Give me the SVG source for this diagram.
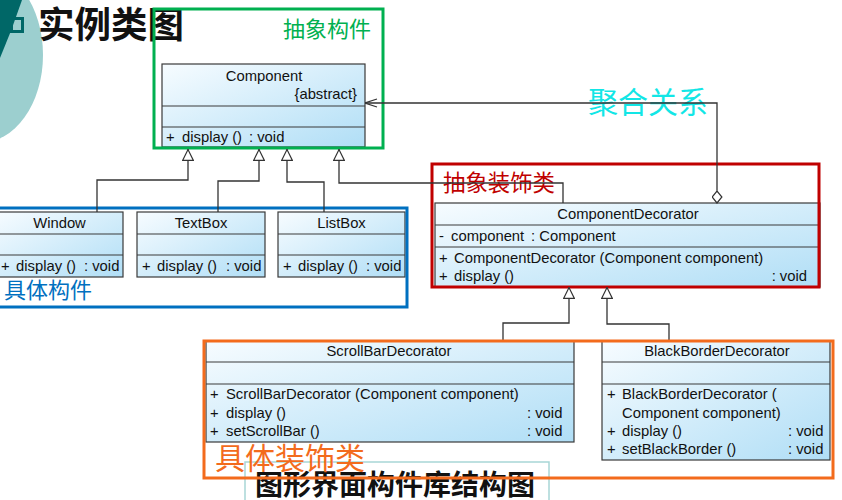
<svg xmlns="http://www.w3.org/2000/svg" width="842" height="500" viewBox="0 0 842 500">
<defs>
<linearGradient id="g" x1="0" y1="0" x2="1" y2="1">
<stop offset="0" stop-color="#f7fcff"/>
<stop offset="1" stop-color="#b0def6"/>
</linearGradient>
<marker id="tri" viewBox="0 0 12 12" refX="12" refY="6" markerWidth="12" markerHeight="12" markerUnits="userSpaceOnUse" orient="auto">
<path d="M0.6,0.6 L11.4,6 L0.6,11.4 Z" fill="#fff" stroke="#333" stroke-width="1.2"/>
</marker>
<marker id="open" viewBox="0 0 13 10" refX="12.5" refY="5" markerWidth="13" markerHeight="10" markerUnits="userSpaceOnUse" orient="auto">
<path d="M0.5,1 L12.5,5 L0.5,9" fill="none" stroke="#333" stroke-width="1.2"/>
</marker>
<marker id="dia" viewBox="0 0 13 11" refX="0.5" refY="5.5" markerWidth="13" markerHeight="11" markerUnits="userSpaceOnUse" orient="auto">
<path d="M0.5,5.5 L6.5,0.6 L12.5,5.5 L6.5,10.4 Z" fill="#fff" stroke="#333" stroke-width="1.2"/>
</marker>
</defs>
<style>
.cls{fill:url(#g);stroke:#3a3a3a;stroke-width:1.2}
.dv{stroke:#3a3a3a;stroke-width:1.2}
.t{font-family:"Liberation Sans",Arial,sans-serif;font-size:14.8px;fill:#111}
.m{text-anchor:middle}
.e{text-anchor:end}
.conn{fill:none;stroke:#333;stroke-width:1.3}
.cjk{font-family:"Noto Sans CJK SC","Noto Sans CJK TC",sans-serif}
.frame{fill:none;stroke-width:3}
</style>
<rect width="842" height="500" fill="#fff"/>

<g id="decoration">
<ellipse cx="-20" cy="55" rx="63" ry="88" fill="#9ccfcf"/>
<path d="M0,0 H22 Q12,30 0,58 Z" fill="#006767"/>
<rect x="11.5" y="18.5" width="11" height="13" fill="none" stroke="#006767" stroke-width="3"/>
<text x="38" y="38" class="cjk" font-size="36.5" font-weight="bold" fill="#111">实例类图</text>
</g>

<g id="Component">
<rect class="cls" x="162" y="64" width="203" height="83"/>
<line class="dv" x1="162" y1="106" x2="365" y2="106"/>
<line class="dv" x1="162" y1="127" x2="365" y2="127"/>
<text class="t m" x="264" y="81">Component</text>
<text class="t e" x="357" y="99">{abstract}</text>
<text class="t" x="166" y="142">+</text>
<text class="t" x="182" y="142">display ()</text>
<text class="t" x="249" y="142">: void</text>
</g>

<g id="Window">
<rect class="cls" x="-4" y="212" width="127" height="65"/>
<line class="dv" x1="-4" y1="234" x2="123" y2="234"/>
<line class="dv" x1="-4" y1="255" x2="123" y2="255"/>
<text class="t m" x="59.5" y="228">Window</text>
<text class="t" x="1" y="271">+</text>
<text class="t" x="16" y="271">display ()</text>
<text class="t" x="84" y="271">: void</text>
</g>

<g id="TextBox">
<rect class="cls" x="137" y="212" width="128" height="65"/>
<line class="dv" x1="137" y1="234" x2="265" y2="234"/>
<line class="dv" x1="137" y1="255" x2="265" y2="255"/>
<text class="t m" x="201" y="228">TextBox</text>
<text class="t" x="142" y="271">+</text>
<text class="t" x="157" y="271">display ()</text>
<text class="t" x="226" y="271">: void</text>
</g>

<g id="ListBox">
<rect class="cls" x="278" y="212" width="127" height="65"/>
<line class="dv" x1="278" y1="234" x2="405" y2="234"/>
<line class="dv" x1="278" y1="255" x2="405" y2="255"/>
<text class="t m" x="341.5" y="228">ListBox</text>
<text class="t" x="283" y="271">+</text>
<text class="t" x="298" y="271">display ()</text>
<text class="t" x="366" y="271">: void</text>
</g>

<g id="ComponentDecorator">
<rect class="cls" x="435" y="203" width="385" height="84"/>
<line class="dv" x1="435" y1="225" x2="820" y2="225"/>
<line class="dv" x1="435" y1="247" x2="820" y2="247"/>
<text class="t m" x="628" y="219">ComponentDecorator</text>
<text class="t" x="439" y="241">-</text>
<text class="t" x="451" y="241">component</text>
<text class="t" x="531" y="241">: Component</text>
<text class="t" x="439" y="263">+</text>
<text class="t" x="454" y="263">ComponentDecorator (Component component)</text>
<text class="t" x="439" y="281">+</text>
<text class="t" x="454" y="281">display ()</text>
<text class="t e" x="807" y="281">: void</text>
</g>

<g id="ScrollBarDecorator">
<rect class="cls" x="206" y="341" width="368" height="101"/>
<line class="dv" x1="206" y1="362" x2="574" y2="362"/>
<line class="dv" x1="206" y1="384" x2="574" y2="384"/>
<text class="t m" x="389" y="356">ScrollBarDecorator</text>
<text class="t" x="210" y="399">+</text>
<text class="t" x="226" y="399">ScrollBarDecorator (Component component)</text>
<text class="t" x="210" y="418">+</text>
<text class="t" x="226" y="418">display ()</text>
<text class="t" x="527" y="418">: void</text>
<text class="t" x="210" y="436">+</text>
<text class="t" x="226" y="436">setScrollBar ()</text>
<text class="t" x="527" y="436">: void</text>
</g>

<g id="BlackBorderDecorator">
<rect class="cls" x="602" y="341" width="228" height="119"/>
<line class="dv" x1="602" y1="362" x2="830" y2="362"/>
<line class="dv" x1="602" y1="384" x2="830" y2="384"/>
<text class="t m" x="717" y="356">BlackBorderDecorator</text>
<text class="t" x="607" y="399">+</text>
<text class="t" x="622" y="399">BlackBorderDecorator (</text>
<text class="t" x="622" y="418">Component component)</text>
<text class="t" x="607" y="436">+</text>
<text class="t" x="622" y="436">display ()</text>
<text class="t" x="788" y="436">: void</text>
<text class="t" x="607" y="454">+</text>
<text class="t" x="622" y="454">setBlackBorder ()</text>
<text class="t" x="788" y="454">: void</text>
</g>

<g id="frame-abstract-component">
<rect class="frame" x="154" y="9" width="229" height="139" stroke="#00b050"/>
<text x="283" y="37" class="cjk" font-size="22" fill="#00b050">抽象构件</text>
</g>

<g id="frame-concrete-component">
<rect class="frame" x="-5" y="208" width="412" height="99" stroke="#0070c0"/>
<text x="4" y="298" class="cjk" font-size="22" fill="#0070c0">具体构件</text>
</g>

<g id="frame-abstract-decorator">
<rect class="frame" x="432" y="164" width="387" height="123" stroke="#c00000"/>
<text x="443" y="191" class="cjk" font-size="22.4" fill="#c00000">抽象装饰类</text>
</g>

<g id="label-aggregation">
<text x="588" y="113" class="cjk" font-size="30" fill="#12e6e6">聚合关系</text>
</g>

<g id="connectors">
<path class="conn" d="M97,212 V180 H188 V149" marker-end="url(#tri)"/>
<path class="conn" d="M218,212 V181 H259 V149" marker-end="url(#tri)"/>
<path class="conn" d="M324,212 V182 H287 V149" marker-end="url(#tri)"/>
<path class="conn" d="M563,203 V183 H339 V149" marker-end="url(#tri)"/>
<path class="conn" d="M717,203 V103 H365" marker-start="url(#dia)" marker-end="url(#open)"/>
<path class="conn" d="M503,341 V323 H569 V287" marker-end="url(#tri)"/>
<path class="conn" d="M669,341 V324 H607 V287" marker-end="url(#tri)"/>
</g>

<g id="caption">
<rect x="245" y="462" width="304" height="50" fill="#fff" stroke="#a8d6d6" stroke-width="1.5"/>
<text x="255" y="495" class="cjk" font-size="28" font-weight="bold" fill="#111">图形界面构件库结构图</text>
</g>

<g id="frame-concrete-decorator">
<rect class="frame" x="204" y="341" width="629" height="137" stroke="#f36b1c"/>
<text x="215" y="469" class="cjk" font-size="30" fill="#f36b1c">具体装饰类</text>
</g>
</svg>
